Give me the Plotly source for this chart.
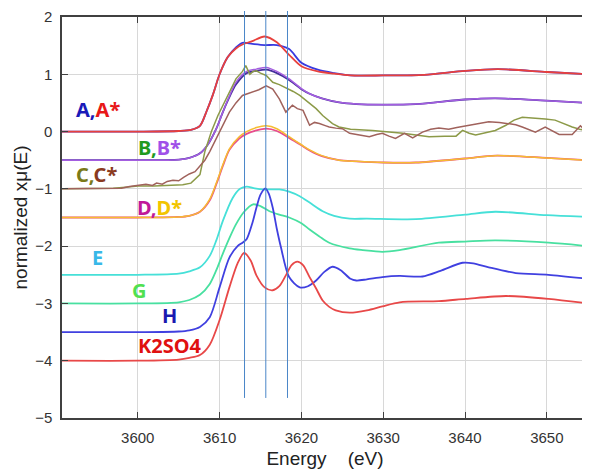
import plotly.graph_objects as go

# ---------------- data ----------------
A_x = [3590.7, 3600, 3605, 3606.5, 3607.6, 3608.4, 3609.2, 3610, 3611, 3612, 3612.8, 3614, 3615.5, 3617, 3618.5, 3620, 3622, 3624, 3626, 3630, 3635, 3640, 3644, 3650, 3655]
A_y = [0, 0, 0.01, 0.03, 0.1, 0.35, 0.65, 1.0, 1.3, 1.47, 1.55, 1.53, 1.51, 1.51, 1.44, 1.2, 1.08, 1.02, 0.98, 0.98, 0.99, 1.06, 1.09, 1.04, 1.0]
Astar_y = [0, 0, 0.01, 0.03, 0.1, 0.35, 0.65, 1.0, 1.3, 1.45, 1.52, 1.58, 1.66, 1.56, 1.34, 1.14, 1.05, 1.01, 0.98, 0.98, 0.99, 1.06, 1.09, 1.04, 1.0]

B_x = [3590.7, 3600, 3605, 3606.3, 3607.6, 3608.6, 3609.6, 3610.4, 3611.2, 3612, 3613.3, 3614.5, 3615.7, 3617, 3618.5, 3620, 3621, 3622.5, 3624.6, 3626.7, 3630, 3634, 3640, 3643.7, 3650, 3655]
B_y = [-0.5, -0.5, -0.49, -0.46, -0.38, -0.22, 0.05, 0.34, 0.6, 0.82, 1.02, 1.06, 1.08, 1.02, 0.9, 0.74, 0.66, 0.58, 0.51, 0.48, 0.47, 0.48, 0.56, 0.58, 0.54, 0.5]
Bstar_y = [-0.5, -0.5, -0.49, -0.46, -0.38, -0.22, 0.05, 0.34, 0.62, 0.86, 1.05, 1.09, 1.12, 1.05, 0.92, 0.75, 0.66, 0.58, 0.51, 0.48, 0.47, 0.48, 0.56, 0.58, 0.54, 0.5]

C_x = [3590.7, 3594, 3597, 3598.5, 3600, 3602, 3604, 3605.5, 3606.5, 3607.6, 3608.2, 3609, 3609.8, 3610.8, 3612, 3612.8, 3613.2, 3613.7, 3614.1, 3614.5, 3615, 3615.7, 3616.5, 3617.3, 3618.1, 3619, 3619.8, 3620.8, 3621.8, 3622.6, 3623.8, 3624.6, 3626, 3628.7, 3630.5, 3632.4, 3634, 3635.6, 3637.5, 3638.9, 3639.7, 3640.5, 3641.3, 3642.5, 3643.7, 3645, 3646, 3647, 3648.5, 3649.8, 3651, 3652, 3653.1, 3654, 3655]
C_y = [-1.0, -1.0, -0.99, -0.97, -0.95, -0.95, -0.94, -0.93, -0.9, -0.75, -0.35, 0.0, 0.28, 0.57, 0.92, 1.05, 1.15, 1.0, 1.05, 1.06, 1.02, 0.98, 0.86, 0.82, 0.77, 0.7, 0.63, 0.52, 0.4, 0.28, 0.14, 0.08, 0.04, 0.02, 0.0, -0.03, -0.06, -0.09, -0.08, -0.08, 0.02, -0.03, -0.06, -0.02, 0.02, 0.11, 0.2, 0.25, 0.24, 0.22, 0.2, 0.14, 0.08, 0.04, 0.02]

Cstar_x = [3590.7, 3595, 3598, 3599, 3600.2, 3601, 3601.8, 3602.3, 3603, 3603.6, 3604.3, 3605, 3605.6, 3606.3, 3607, 3607.6, 3608.2, 3608.8, 3609.4, 3610, 3610.6, 3611.2, 3612, 3612.8, 3613.4, 3614.1, 3614.8, 3615.7, 3616.5, 3617.3, 3618.1, 3618.9, 3619.5, 3620.2, 3621, 3621.6, 3622.2, 3623, 3623.4, 3624.2, 3625, 3625.9, 3627, 3628.3, 3629.2, 3629.9, 3630.7, 3631.5, 3632.6, 3633.6, 3634.8, 3635.8, 3636.8, 3638, 3639, 3640.1, 3641.5, 3642.9, 3644.2, 3645.4, 3646.2, 3647, 3648.6, 3649.8, 3650.6, 3651.5, 3653.1, 3654.1, 3655]
Cstar_y = [-1.0, -1.0, -0.99, -0.96, -0.94, -0.92, -0.94, -0.9, -0.92, -0.87, -0.85, -0.86, -0.8, -0.74, -0.7, -0.6, -0.5, -0.35, -0.18, 0.0, 0.18, 0.34, 0.5, 0.63, 0.66, 0.69, 0.73, 0.8, 0.74, 0.57, 0.34, 0.46, 0.4, 0.37, 0.11, 0.16, 0.14, 0.1, 0.08, 0.06, 0.05, -0.03, -0.06, -0.09, -0.05, -0.03, -0.08, -0.12, -0.03, -0.11, -0.01, 0.04, 0.06, 0.04, 0.07, 0.1, 0.13, 0.17, 0.16, 0.14, 0.12, 0.08, -0.01, 0.08, 0.02, -0.05, -0.05, 0.1, -0.01]

D_x = [3590.7, 3600, 3605, 3606.3, 3607.6, 3608.8, 3609.6, 3610.4, 3611.2, 3612.4, 3613.3, 3614.5, 3615.7, 3617, 3618.5, 3620, 3621, 3622.5, 3624.6, 3626.7, 3630, 3634, 3640, 3643.7, 3650, 3655]
D_y = [-1.5, -1.5, -1.49, -1.47, -1.4, -1.2, -0.92, -0.6, -0.32, -0.12, -0.04, 0.02, 0.05, 0.01, -0.11, -0.24, -0.33, -0.43, -0.5, -0.52, -0.54, -0.54, -0.47, -0.42, -0.46, -0.5]
Dstar_y = [-1.5, -1.5, -1.49, -1.47, -1.4, -1.18, -0.9, -0.58, -0.3, -0.09, 0.0, 0.07, 0.1, 0.05, -0.09, -0.23, -0.32, -0.42, -0.5, -0.52, -0.54, -0.54, -0.47, -0.42, -0.46, -0.5]

E_x = [3590.7, 3600, 3605, 3606.3, 3607.6, 3608.8, 3609.6, 3610.4, 3611.6, 3612.5, 3613.3, 3614.3, 3615.3, 3617.3, 3618.5, 3619.8, 3621, 3622.6, 3624, 3625.9, 3628, 3634, 3640, 3643.7, 3650, 3655]
E_y = [-2.5, -2.5, -2.48, -2.44, -2.37, -2.17, -1.9, -1.56, -1.16, -1.0, -0.96, -0.99, -1.01, -1.01, -1.05, -1.13, -1.24, -1.39, -1.47, -1.52, -1.52, -1.53, -1.45, -1.4, -1.46, -1.49]

G_x = [3590.7, 3600, 3605, 3606.3, 3607.6, 3608.8, 3609.6, 3610.4, 3611.2, 3612, 3613, 3614.1, 3615, 3616.1, 3617.3, 3618.5, 3620, 3621, 3622.2, 3623.4, 3625.9, 3627.5, 3629.9, 3632, 3636.8, 3640, 3643.7, 3650.2, 3655]
G_y = [-3.0, -3.0, -2.98, -2.94, -2.85, -2.66, -2.42, -2.13, -1.86, -1.62, -1.4, -1.27, -1.3, -1.39, -1.45, -1.5, -1.6, -1.71, -1.83, -1.94, -2.04, -2.07, -2.1, -2.07, -1.94, -1.92, -1.9, -1.94, -2.0]

H_x = [3590.7, 3600, 3605, 3606.3, 3607.6, 3608.8, 3610, 3611.2, 3612.2, 3612.8, 3613.3, 3614, 3614.5, 3615, 3615.6, 3616, 3616.5, 3617, 3617.5, 3618.5, 3619.8, 3620.8, 3621.8, 3622.8, 3623.8, 3624.8, 3626, 3626.7, 3628, 3629.9, 3632, 3634.8, 3637, 3639.7, 3641, 3642.9, 3646.2, 3650.2, 3655]
H_y = [-3.5, -3.5, -3.49, -3.47, -3.41, -3.24, -2.72, -2.2, -2.0, -1.94, -1.88, -1.6, -1.33, -1.1, -0.99, -1.08, -1.33, -1.7, -2.02, -2.54, -2.72, -2.7, -2.6, -2.45, -2.36, -2.42, -2.57, -2.6, -2.58, -2.54, -2.52, -2.53, -2.43, -2.29, -2.3, -2.37, -2.47, -2.5, -2.57]

K_x = [3590.7, 3600, 3605, 3606.3, 3607.6, 3608.8, 3610, 3611.2, 3612.2, 3613, 3613.8, 3614.5, 3615.5, 3616.5, 3617.3, 3618.1, 3618.8, 3619.5, 3620.2, 3621, 3621.8, 3622.6, 3623.4, 3624.2, 3625.9, 3628, 3629.9, 3632, 3636.8, 3640.1, 3645, 3650.2, 3655]
K_y = [-4.0, -4.0, -3.98, -3.95, -3.9, -3.72, -3.29, -2.72, -2.3, -2.12, -2.25, -2.51, -2.72, -2.77, -2.7, -2.51, -2.33, -2.27, -2.33, -2.54, -2.74, -2.95, -3.06, -3.12, -3.16, -3.12, -3.05, -2.98, -2.96, -2.92, -2.87, -2.92, -3.0]

peak_lines = [3613.05, 3615.65, 3618.3]
x_ticks = [3600, 3610, 3620, 3630, 3640, 3650]
y_ticks = [-5, -4, -3, -2, -1, 0, 1, 2]

# ---------------- figure ----------------
fig = go.Figure()

def add(x, y, color, shape="spline", width=1.8):
    fig.add_trace(go.Scatter(x=x, y=y, mode="lines",
                             line=dict(color=color, width=width, shape=shape, smoothing=0.8),
                             showlegend=False, hoverinfo="skip"))

add(A_x, A_y, "#3a3ae0")
add(A_x, Astar_y, "#e8403c")
add(B_x, B_y, "#45309a")
add(B_x, Bstar_y, "#a45ee0", width=1.5)
add(C_x, C_y, "#8c9a48", shape="linear", width=1.5)
add(Cstar_x, Cstar_y, "#a0625c", shape="linear", width=1.5)
add(D_x, D_y, "#e84c8c")
add(D_x, Dstar_y, "#f6bc32", width=1.5)
add(E_x, E_y, "#46e0d8")
add(G_x, G_y, "#48e0a0")
add(H_x, H_y, "#4040e0")
add(K_x, K_y, "#e84848")

for xv in peak_lines:
    fig.add_shape(type="line", xref="x", yref="paper", x0=xv, x1=xv,
                  y0=0.05, y1=1.015, line=dict(color="#4a86c8", width=1), layer="above")

def span(t, c):
    return f"<span style='color:{c}'>{t}</span>"

labels = [
    (3595.2, 0.39, span("A,", "#1a1ab8") + span("A*", "#e81818")),
    (3602.7, -0.27, span("B,", "#1f9a1f") + span("B*", "#a050e8")),
    (3594.9, -0.75, span("C,", "#7a7a18") + span("C*", "#8a3a20")),
    (3602.7, -1.32, span("D,", "#c0189a") + span("D*", "#f2c400")),
    (3595.1, -2.19, span("E", "#38b8e8")),
    (3600.2, -2.77, span("G", "#50e050")),
    (3603.9, -3.21, span("H", "#1a1ab0")),
    (3603.9, -3.73, span("K2SO4", "#e01010")),
]
for lx, ly, txt in labels:
    fig.add_annotation(x=lx, y=ly, text="<b>" + txt + "</b>", showarrow=False,
                       font=dict(family="Noto Sans", size=20), xanchor="center", yanchor="middle")

axis_common = dict(showline=True, linecolor="#404040", linewidth=1.5, mirror="ticks",
                   ticks="inside", ticklen=6, tickcolor="#404040",
                   showgrid=True, gridcolor="#d8d8d8", gridwidth=1, zeroline=False,
                   ticklabelstandoff=5, ticklabeloverflow="allow",
                   tickfont=dict(family="Liberation Sans", size=15, color="#333333"))

fig.update_xaxes(range=[3590.74, 3655.03], tickvals=x_ticks,
                 title=dict(text="Energy    (eV)", font=dict(family="Liberation Sans", size=19, color="#222222"), standoff=7),
                 **axis_common)
fig.update_yaxes(range=[-5, 2], tickvals=y_ticks,
                 title=dict(text="normalized xμ(E)", font=dict(family="Liberation Sans", size=19, color="#222222"), standoff=2),
                 **axis_common)

# page body has an 8px margin; size/margins compensate so the plot area lands at 62..590 x 14..418
fig.update_layout(width=582, height=465, margin=dict(l=54, r=0, t=6, b=55),
                  plot_bgcolor="white", paper_bgcolor="white")

fig.write_html("out.html")
